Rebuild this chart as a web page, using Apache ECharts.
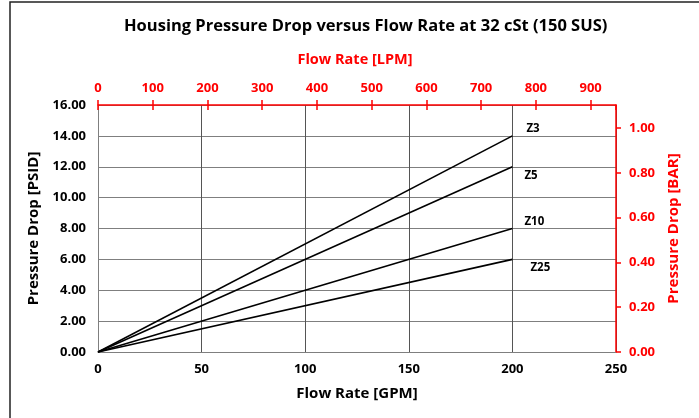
<!DOCTYPE html>
<html>
<head>
<meta charset="utf-8">
<script src="https://cdn.jsdelivr.net/npm/echarts@6/dist/echarts.min.js"></script>
<style>
  html, body { margin: 0; padding: 0; background: #fff; }
  #main { width: 699px; height: 418px; }
</style>
</head>
<body>
<div id="main"></div>
<script>
// flow in GPM, pressure drop in PSID
const flowGpm = [0, 200];
const z3 = [0, 14];
const z5 = [0, 12];
const z10 = [0, 8];
const z25 = [0, 6];
const seriesNames = ['Z3', 'Z5', 'Z10', 'Z25'];

const GPM_TO_LPM = 3.78541;
const PSI_TO_BAR = 0.0689476;
const gpmMax = 250;
const psiMax = 16;

const font = '"Open Sans", "Liberation Sans", sans-serif';
const red = '#ff0000';

// label offsets so the names sit next to the line ends
const labelOffsets = [[6, -7], [4, 9], [4, -7], [10, 8]];

const chart = echarts.init(document.getElementById('main'));

const makeSeries = (name, vals, i) => ({
  name: name,
  type: 'line',
  xAxisIndex: 0,
  yAxisIndex: 0,
  symbol: 'none',
  silent: true,
  lineStyle: { color: '#000', width: 1.6 },
  endLabel: {
    show: true,
    formatter: name,
    offset: labelOffsets[i],
    color: '#000',
    fontWeight: 'bold',
    fontSize: 11.5,
    fontFamily: font
  },
  data: flowGpm.map((x, k) => [x, vals[k]])
});

const option = {
  animation: false,
  backgroundColor: '#fff',
  title: {
    text: 'Housing Pressure Drop versus Flow Rate at 32 cSt (150 SUS)',
    left: 119,
    top: 13,
    textStyle: { fontSize: 16.5, fontWeight: 'bold', color: '#000', fontFamily: font }
  },
  grid: { left: 98, right: 83, top: 105, bottom: 66 },
  xAxis: [
    {
      type: 'value',
      position: 'bottom',
      min: 0,
      max: gpmMax,
      interval: 50,
      name: 'Flow Rate [GPM]',
      nameLocation: 'middle',
      nameGap: 34,
      nameTextStyle: { fontSize: 15, fontWeight: 'bold', color: '#000', fontFamily: font },
      axisLine: { onZero: false, lineStyle: { color: '#7f7f7f', width: 1 } },
      axisTick: { show: false },
      axisLabel: { color: '#000', fontWeight: 'bold', fontSize: 13, fontFamily: font, margin: 11 },
      splitLine: { show: true, lineStyle: { color: '#555', width: 1 } }
    },
    {
      type: 'value',
      position: 'top',
      min: 0,
      max: gpmMax * GPM_TO_LPM,
      interval: 100,
      name: 'Flow Rate [LPM]',
      nameLocation: 'middle',
      nameGap: 38,
      nameTextStyle: { fontSize: 14.5, fontWeight: 'bold', color: red, fontFamily: font, padding: [0, 4, 0, 0] },
      axisLine: { onZero: false, lineStyle: { color: red, width: 1.5 } },
      axisTick: { show: true, inside: false, length: 5, lineStyle: { color: red, width: 1.5 } },
      axisLabel: { color: red, fontWeight: 'bold', fontSize: 13, fontFamily: font, margin: 10, showMaxLabel: false },
      splitLine: { show: false }
    },
    {
      type: 'value',
      position: 'top',
      min: 0,
      max: gpmMax * GPM_TO_LPM,
      interval: 100,
      axisLine: { show: false, onZero: false },
      axisTick: { show: true, inside: true, length: 5, lineStyle: { color: red, width: 1.5 } },
      axisLabel: { show: false },
      splitLine: { show: false }
    }
  ],
  yAxis: [
    {
      type: 'value',
      position: 'left',
      min: 0,
      max: psiMax,
      interval: 2,
      name: 'Pressure Drop [PSID]',
      nameLocation: 'middle',
      nameGap: 48,
      nameTextStyle: { fontSize: 15, fontWeight: 'bold', color: '#000', fontFamily: font },
      axisLine: { show: true, onZero: false, lineStyle: { color: '#7f7f7f', width: 1 } },
      axisTick: { show: false },
      axisLabel: { color: '#000', fontWeight: 'bold', fontSize: 13, fontFamily: font, margin: 12,
        formatter: v => v.toFixed(2) },
      splitLine: { show: true, lineStyle: { color: '#7f7f7f', width: 1 } }
    },
    {
      type: 'value',
      position: 'right',
      min: 0,
      max: psiMax * PSI_TO_BAR,
      interval: 0.2,
      name: 'Pressure Drop [BAR]',
      nameLocation: 'middle',
      nameGap: 46,
      nameTextStyle: { fontSize: 15, fontWeight: 'bold', color: red, fontFamily: font },
      axisLine: { show: true, onZero: false, lineStyle: { color: red, width: 1.5 } },
      axisTick: { show: true, inside: false, length: 5, lineStyle: { color: red, width: 1.5 } },
      axisLabel: { color: red, fontWeight: 'bold', fontSize: 13, fontFamily: font, margin: 13,
        showMaxLabel: false, formatter: v => v.toFixed(2) },
      splitLine: { show: false }
    }
  ],
  graphic: [
    {
      type: 'rect',
      shape: { x: 10, y: 2, width: 760, height: 500 },
      style: { fill: null, stroke: '#222', lineWidth: 1.5 },
      silent: true
    }
  ],
  series: [
    makeSeries(seriesNames[0], z3, 0),
    makeSeries(seriesNames[1], z5, 1),
    makeSeries(seriesNames[2], z10, 2),
    makeSeries(seriesNames[3], z25, 3)
  ]
};

chart.setOption(option);
</script>
</body>
</html>
